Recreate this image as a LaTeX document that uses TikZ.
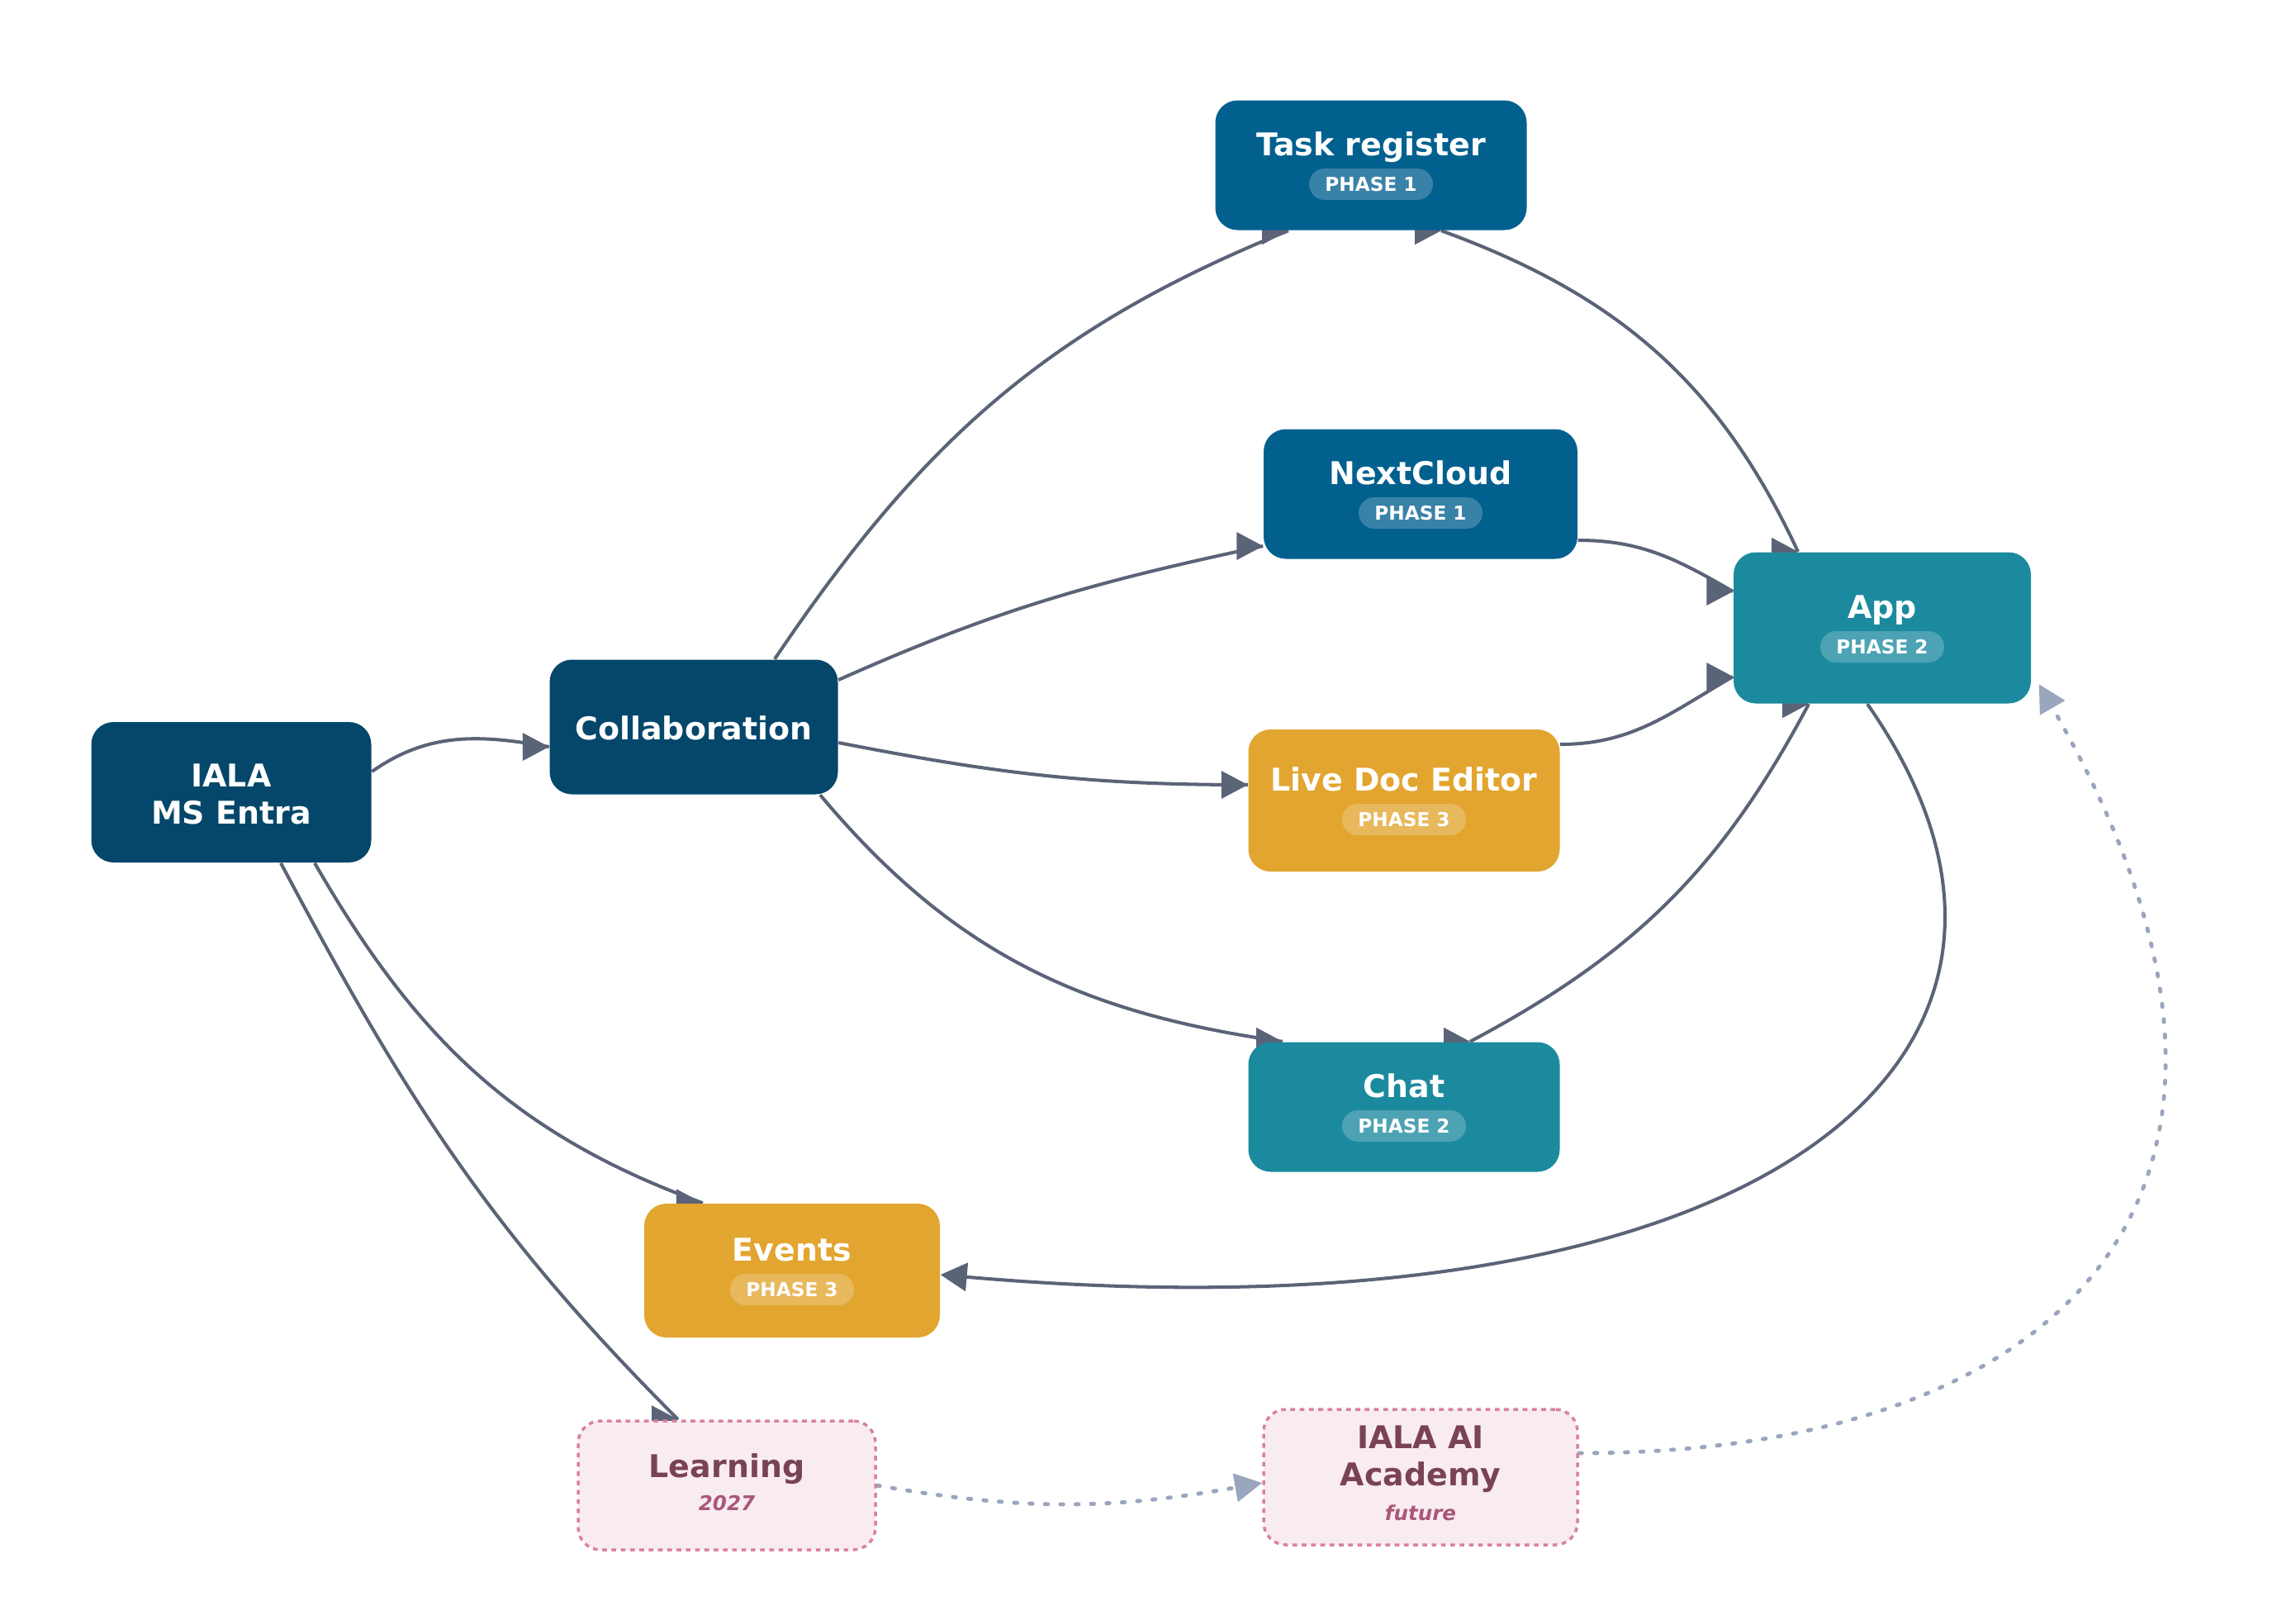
\documentclass[tikz,border=0pt]{standalone}
\usepackage{fontspec}
\setmainfont{DejaVu Sans}
\usetikzlibrary{arrows.meta, decorations.markings}
\definecolor{entranavy}{RGB}{4, 71, 106}
\definecolor{phaseblue}{RGB}{2, 96, 143}
\definecolor{phaseteal}{RGB}{28, 138, 158}
\definecolor{phasegold}{RGB}{226, 165, 47}
\definecolor{futurefill}{RGB}{249, 236, 240}
\definecolor{futureline}{RGB}{217, 130, 155}
\definecolor{futuretext}{RGB}{122, 67, 85}
\definecolor{futuresub}{RGB}{168, 88, 122}
\definecolor{edgegray}{RGB}{91, 99, 119}
\definecolor{dotgray}{RGB}{154, 166, 190}
\pgfdeclarelayer{edges}
\pgfsetlayers{edges,main}

\begin{document}
\begin{tikzpicture}[
    box/.style={rectangle, rounded corners=0.27cm, minimum width=3.77cm, minimum height=1.57cm, inner sep=0pt},
    future/.style={box, fill=futurefill, draw=futureline, line width=1pt, dash pattern=on 1.6pt off 1.6pt},
    title/.style={text=white, font=\fontsize{10.8}{12.8}\selectfont\bfseries, inner sep=0pt, align=center},
    ftitle/.style={title, text=futuretext},
    fsub/.style={text=futuresub, font=\fontsize{7}{8}\selectfont\bfseries\itshape, inner sep=0pt, anchor=base},
    badge/.style={fill=white, fill opacity=0.22, text opacity=1, text=white, rounded corners=0.19cm, minimum width=1.5cm, minimum height=0.38cm, inner sep=0pt, font=\fontsize{6.6}{7}\selectfont\bfseries},
    link/.style={draw=edgegray, line width=1.15pt},
    dotlink/.style={draw=dotgray, line width=1.4pt, line cap=round, dash pattern=on 1pt off 4.3pt, -{Triangle[length=0.33cm, width=0.34cm]}},
    head/.style={postaction={decorate, decoration={markings, mark=at position 1 with {\pgftransformresetnontranslations \fill[edgegray] (0,0) -- (-0.32,0.17) -- (-0.32,-0.17) -- cycle;}}}},
    tail/.style={postaction={decorate, decoration={markings, mark=at position 0 with {\pgftransformresetnontranslations \fill[edgegray] (0,0) -- (-0.32,0.17) -- (-0.32,-0.17) -- cycle;}}}}
]
    \useasboundingbox (0,0) rectangle (27.8,-19.6);

    % Sources
    \node[box, fill=entranavy, minimum width=3.39cm, minimum height=1.70cm] (entra) at (2.80,-9.59) {};
    \node[title] (entra-t) at ([yshift=-0.02cm]entra.center) {IALA\\MS Entra};
    \node[box, fill=entranavy, minimum width=3.49cm, minimum height=1.63cm] (collab) at (8.40,-8.80) {};
    \node[title, anchor=base] (collab-t) at ([yshift=-0.15cm]collab.center) {Collaboration};

    % Phase 1
    \node[box, fill=phaseblue] (task) at (16.60,-2.00) {};
    \node[title, anchor=base] (task-t) at ([yshift=0.12cm]task.center) {Task register};
    \node[badge] (task-b) at ([yshift=-0.23cm]task.center) {PHASE 1};
    \node[box, fill=phaseblue, minimum width=3.80cm] (next) at (17.20,-5.98) {};
    \node[title, anchor=base] (next-t) at ([yshift=0.12cm]next.center) {NextCloud};
    \node[badge] (next-b) at ([yshift=-0.23cm]next.center) {PHASE 1};

    % Phase 2
    \node[box, fill=phaseteal, minimum width=3.60cm, minimum height=1.83cm] (app) at (22.79,-7.60) {};
    \node[title, anchor=base] (app-t) at ([yshift=0.12cm]app.center) {App};
    \node[badge] (app-b) at ([yshift=-0.23cm]app.center) {PHASE 2};
    \node[box, fill=phaseteal] (chat) at (17.00,-13.40) {};
    \node[title, anchor=base] (chat-t) at ([yshift=0.12cm]chat.center) {Chat};
    \node[badge] (chat-b) at ([yshift=-0.23cm]chat.center) {PHASE 2};

    % Phase 3
    \node[box, fill=phasegold, minimum height=1.72cm] (live) at (17.00,-9.69) {};
    \node[title, anchor=base] (live-t) at ([yshift=0.12cm]live.center) {Live Doc Editor};
    \node[badge] (live-b) at ([yshift=-0.23cm]live.center) {PHASE 3};
    \node[box, fill=phasegold, minimum width=3.58cm, minimum height=1.62cm] (events) at (9.59,-15.38) {};
    \node[title, anchor=base] (events-t) at ([yshift=0.12cm]events.center) {Events};
    \node[badge] (events-b) at ([yshift=-0.23cm]events.center) {PHASE 3};

    % Later
    \node[future, minimum width=3.60cm, minimum height=1.56cm] (learn) at (8.80,-17.98) {};
    \node[ftitle, anchor=base] (learn-t) at ([yshift=0.10cm]learn.center) {Learning};
    \node[fsub] (learn-s) at ([yshift=-0.30cm]learn.center) {2027};
    \node[future, minimum width=3.80cm, minimum height=1.64cm] (academy) at (17.20,-17.88) {};
    \node[ftitle] (academy-t) at ([yshift=0.22cm]academy.center) {IALA AI\\Academy};
    \node[fsub] (academy-s) at ([yshift=-0.52cm]academy.center) {future};

    % Arrows
    \begin{pgfonlayer}{edges}
    \draw[link, head] ([yshift=0.25cm]entra.east) to[out=35, in=170] ([yshift=-0.24cm]collab.west);
    \draw[link, head] ([xshift=1.01cm]entra.south) to[out=-60, in=160] ([xshift=-1.08cm]events.north);
    \draw[link, head] ([xshift=0.60cm]entra.south) to[out=-62, in=135] ([xshift=-0.59cm]learn.north);
    \draw[link, head] ([xshift=0.98cm]collab.north) to[out=56, in=-158] ([xshift=-1.00cm]task.south);
    \draw[link, head] ([yshift=0.57cm]collab.east) to[out=24, in=-168] ([yshift=-0.63cm]next.west);
    \draw[link, head] ([yshift=-0.19cm]collab.east) to[out=-11, in=180] ([yshift=0.19cm]live.west);
    \draw[link, head] ([xshift=1.53cm]collab.south) to[out=-50, in=172] ([xshift=-1.47cm]chat.north);
    \draw[link, head] ([yshift=-0.56cm]next.east) to[out=0, in=150] ([yshift=0.44cm]app.west);
    \draw[link, head] ([yshift=0.68cm]live.east) to[out=0, in=-150] ([yshift=-0.59cm]app.west);
    \draw[link, head, tail] ([xshift=-1.02cm]app.north) to[out=115, in=-20] ([xshift=0.85cm]task.south);
    \draw[link, head, tail] ([xshift=-0.89cm]app.south) to[out=-118, in=28] ([xshift=0.80cm]chat.north);
    \draw[link, -{Triangle[length=0.32cm, width=0.34cm]}] ([xshift=-0.18cm]app.south) .. controls +(-55:5.2) and +(-5:10) .. ([yshift=-0.05cm]events.east);
    \draw[dotlink] (learn.east) to[out=-10, in=190] ([yshift=-0.07cm]academy.west);
    \draw[dotlink] ([yshift=0.29cm]academy.east) .. controls +(0:6) and +(-60:7) .. ([shift={(0.09cm,0.24cm)}]app.south east);
    \end{pgfonlayer}
\end{tikzpicture}
\end{document}
